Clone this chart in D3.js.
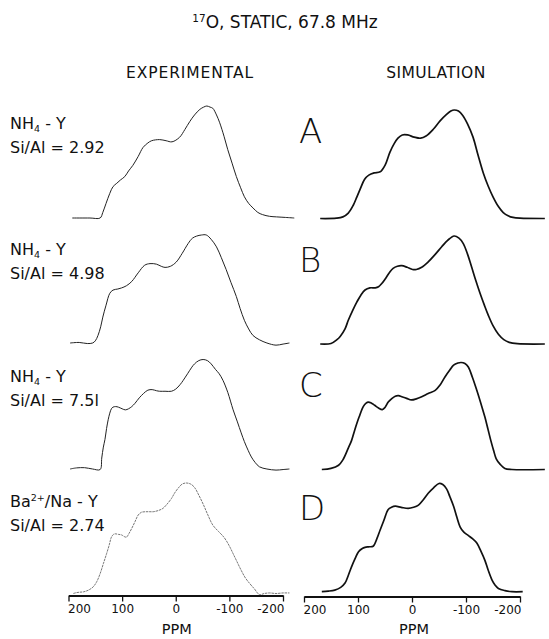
<!DOCTYPE html>
<html>
<head>
<meta charset="utf-8">
<script src="https://cdn.jsdelivr.net/npm/d3@7"></script>
<style>
  html, body { margin: 0; padding: 0; background: #fff; }
  svg { display: block; }
  text { font-family: "DejaVu Sans", "Liberation Sans", sans-serif; fill: #111; }
</style>
</head>
<body>
<svg id="chart" width="549" height="639"></svg>
<script>
// 17O static NMR line shapes: [chemical shift (ppm), relative intensity]
const expA = [[193,0],[160,0],[141,0],[136,0.05],[130,0.13],[123,0.22],[117,0.28],[110,0.31],[103,0.34],[95,0.37],[88,0.42],[80,0.47],[70,0.55],[61,0.63],[52,0.67],[45,0.69],[30,0.70],[18,0.69],[7,0.68],[-7,0.72],[-17,0.79],[-26,0.86],[-35,0.92],[-45,0.97],[-52,0.99],[-58,1.0],[-64,0.99],[-69,0.98],[-76,0.92],[-82,0.85],[-90,0.73],[-97,0.61],[-105,0.49],[-113,0.37],[-121,0.27],[-128,0.19],[-136,0.13],[-144,0.09],[-153,0.05],[-162,0.03],[-175,0.015],[-188,0.01],[-205,0.005],[-221,0]];
const simA = [[170,0],[140,0.003],[128,0.015],[118,0.05],[109,0.12],[102,0.2],[96,0.27],[88,0.36],[80,0.40],[70,0.42],[59,0.43],[50,0.49],[41,0.61],[33,0.69],[26,0.74],[18,0.77],[8,0.77],[-4,0.75],[-16,0.74],[-26,0.76],[-39,0.82],[-52,0.90],[-64,0.96],[-72,0.99],[-78,1.0],[-86,0.99],[-94,0.95],[-103,0.87],[-113,0.75],[-122,0.59],[-132,0.42],[-141,0.30],[-150,0.2],[-160,0.11],[-169,0.055],[-178,0.025],[-187,0.01],[-200,0.003],[-246,0]];
const expB = [[197,0],[180,0.005],[165,-0.005],[155,0],[150,0.02],[145,0.07],[140,0.15],[136,0.24],[130,0.35],[123,0.46],[117,0.49],[108,0.50],[101,0.51],[92,0.53],[82,0.57],[70,0.65],[58,0.72],[48,0.735],[36,0.73],[27,0.71],[20,0.70],[10,0.71],[-1,0.75],[-12,0.83],[-23,0.92],[-31,0.97],[-39,0.99],[-48,1.0],[-57,1.0],[-66,0.96],[-76,0.89],[-85,0.79],[-94,0.68],[-103,0.56],[-113,0.43],[-120,0.32],[-128,0.21],[-136,0.13],[-144,0.07],[-156,0.03],[-170,0.0],[-187,-0.02],[-200,-0.01],[-212,0]];
const simB = [[170,0],[150,0.005],[139,0.04],[133,0.07],[124,0.14],[118,0.22],[110,0.31],[102,0.39],[95,0.45],[87,0.50],[78,0.52],[68,0.52],[62,0.53],[56,0.56],[50,0.60],[42,0.66],[35,0.70],[27,0.72],[19,0.725],[9,0.71],[-1,0.69],[-8,0.69],[-18,0.71],[-30,0.76],[-43,0.83],[-55,0.90],[-66,0.96],[-78,1.0],[-87,0.98],[-95,0.93],[-103,0.83],[-110,0.72],[-118,0.59],[-126,0.47],[-134,0.36],[-141,0.27],[-150,0.17],[-160,0.09],[-170,0.04],[-180,0.015],[-195,0.003],[-246,0]];
const expC = [[197,0],[185,0.01],[170,0.012],[155,0.0],[141,-0.005],[138,0.1],[135,0.2],[132,0.27],[129,0.37],[126,0.45],[123,0.51],[120,0.55],[117,0.565],[112,0.57],[107,0.565],[100,0.55],[94,0.54],[88,0.55],[82,0.57],[76,0.60],[68,0.65],[60,0.69],[52,0.72],[44,0.725],[36,0.715],[30,0.71],[20,0.71],[8,0.71],[0,0.73],[-8,0.77],[-14,0.81],[-22,0.87],[-30,0.93],[-35,0.96],[-43,0.99],[-51,1.0],[-59,0.99],[-66,0.96],[-74,0.91],[-81,0.87],[-88,0.81],[-97,0.70],[-107,0.54],[-115,0.43],[-122,0.33],[-128,0.25],[-135,0.17],[-141,0.11],[-148,0.06],[-156,0.02],[-170,0.0],[-187,-0.01],[-200,-0.005],[-212,0]];
const simC = [[167,0],[150,0.01],[136,0.04],[128,0.09],[118,0.2],[112,0.27],[106,0.37],[98,0.49],[90,0.59],[85,0.62],[81,0.63],[75,0.62],[69,0.60],[62,0.575],[55,0.56],[50,0.58],[44,0.63],[38,0.66],[31,0.685],[25,0.69],[19,0.68],[10,0.665],[1,0.65],[-8,0.66],[-18,0.68],[-30,0.71],[-43,0.74],[-52,0.79],[-61,0.865],[-70,0.93],[-77,0.975],[-85,0.995],[-91,1.0],[-98,0.99],[-104,0.96],[-112,0.86],[-120,0.74],[-128,0.61],[-135,0.49],[-141,0.37],[-146,0.27],[-151,0.18],[-156,0.1],[-163,0.05],[-172,0.01],[-185,0.0],[-246,0]];
const expD = [[191,0],[185,0.008],[179,0.012],[172,0.015],[163,0.03],[154,0.06],[147,0.11],[141,0.18],[135,0.27],[129,0.36],[124,0.44],[120,0.51],[116,0.535],[113,0.54],[107,0.535],[101,0.53],[96,0.515],[92,0.51],[87,0.545],[82,0.59],[76,0.65],[70,0.71],[64,0.735],[56,0.74],[48,0.74],[42,0.74],[33,0.75],[24,0.77],[16,0.81],[8,0.86],[2,0.91],[-4,0.95],[-12,0.99],[-20,1.0],[-28,0.99],[-35,0.96],[-43,0.89],[-51,0.81],[-60,0.71],[-69,0.62],[-80,0.56],[-88,0.52],[-94,0.48],[-101,0.42],[-107,0.36],[-114,0.29],[-122,0.21],[-130,0.14],[-138,0.09],[-147,0.04],[-156,-0.01],[-165,0.0],[-175,0.005],[-187,0.0],[-200,0.005],[-212,0.005]];
const simD = [[167,0],[155,0.005],[143,0.015],[132,0.04],[124,0.08],[118,0.15],[112,0.23],[105,0.31],[99,0.37],[92,0.40],[87,0.41],[80,0.415],[72,0.42],[65,0.49],[59,0.57],[52,0.66],[44,0.76],[38,0.78],[31,0.79],[20,0.78],[7,0.77],[-3,0.78],[-12,0.80],[-21,0.85],[-30,0.91],[-40,0.96],[-50,1.0],[-57,0.99],[-64,0.95],[-70,0.88],[-77,0.79],[-83,0.69],[-89,0.60],[-96,0.55],[-104,0.52],[-112,0.49],[-120,0.45],[-128,0.37],[-135,0.29],[-141,0.20],[-148,0.11],[-154,0.06],[-160,0.03],[-172,0.01],[-185,0],[-205,0]];

const panelLetters = ["A", "B", "C", "D"];
const sampleNames = ["NH4-Y", "NH4-Y", "NH4-Y", "Ba2+/Na-Y"];
const siAlRatios = ["2.92", "4.98", "7.5l", "2.74"];
const ppmTicks = [200, 100, 0, -100, -200];

const experimental = [expA, expB, expC, expD];
const simulated = [simA, simB, simC, simD];

const svg = d3.select("#chart");

// frame of each column: horizontal ppm scale, plus baseline / peak rows
const leftX = d3.scaleLinear().domain([200, -200]).range([68.5, 283]);
const rightX = d3.scaleLinear().domain([200, -200]).range([304, 520]);
const leftRows = [[218, 106], [343, 235], [469, 359.5], [593.5, 483]];
const rightRows = [[218.5, 110], [344, 236], [469.5, 362.5], [591.7, 483.5]];

function drawSpectrum(data, xs, row, style) {
  const y = d3.scaleLinear().domain([0, 1]).range(row);
  const line = d3.line()
    .x(d => xs(d[0]))
    .y(d => y(d[1]))
    .curve(d3.curveCatmullRom.alpha(0.5));
  svg.append("path")
    .datum(data)
    .attr("d", line)
    .attr("fill", "none")
    .attr("stroke", style.color)
    .attr("stroke-width", style.width)
    .attr("stroke-dasharray", style.dash || null)
    .attr("stroke-linejoin", "round");
}

experimental.forEach((d, i) => drawSpectrum(d, leftX, leftRows[i],
  i === 3 ? { color: "#666", width: 0.9, dash: "2.5,0.8" } : { color: "#222", width: 1.0 }));
simulated.forEach((d, i) => drawSpectrum(d, rightX, rightRows[i], { color: "#111", width: 1.7 }));

// ppm axes under both columns
function drawAxis(xs, yPos) {
  const g = svg.append("g")
    .attr("transform", `translate(0,${yPos})`)
    .call(d3.axisBottom(xs).tickValues(ppmTicks).tickSize(6).tickSizeOuter(0).tickPadding(3)
      .tickFormat(d => String(d)));
  g.select(".domain").attr("stroke", "#111").attr("stroke-width", 1.8);
  g.selectAll(".tick line").attr("stroke", "#111").attr("stroke-width", 1.3);
  g.selectAll(".tick text")
    .attr("font-family", "DejaVu Sans, sans-serif")
    .attr("font-size", 12)
    .attr("fill", "#111")
    .attr("text-anchor", (d, i) => i === 0 ? "start" : i === ppmTicks.length - 1 ? "end" : "middle")
    .attr("dx", (d, i) => i === 0 ? -1 : i === ppmTicks.length - 1 ? 1 : 0);
  return g;
}
drawAxis(leftX, 595.5);
drawAxis(rightX, 596.5);

svg.append("text").attr("x", leftX(0) + 1).attr("y", 634).attr("text-anchor", "middle")
  .attr("font-size", 14.5).text("PPM");
svg.append("text").attr("x", rightX(0) + 2).attr("y", 634).attr("text-anchor", "middle")
  .attr("font-size", 14.5).text("PPM");

// title
const title = svg.append("text").attr("x", 285).attr("y", 27.5).attr("text-anchor", "middle")
  .attr("font-size", 17);
title.append("tspan").attr("font-size", 10.5).attr("dy", -6).text("17");
title.append("tspan").attr("dy", 6).text("O, STATIC, 67.8 MHz");

// column headings
svg.append("text").attr("x", 190).attr("y", 78).attr("text-anchor", "middle")
  .attr("font-size", 15.5).attr("letter-spacing", 0.9).text("EXPERIMENTAL");
svg.append("text").attr("x", 436).attr("y", 78).attr("text-anchor", "middle")
  .attr("font-size", 15.5).attr("letter-spacing", 0.4).text("SIMULATION");

// sample labels on the left
const labelBase = [129, 255, 382, 507];
sampleNames.forEach((name, i) => {
  const t = svg.append("text").attr("x", 10).attr("y", labelBase[i]).attr("font-size", 16);
  if (name.startsWith("NH4")) {
    t.append("tspan").text("NH");
    t.append("tspan").attr("font-size", 9.5).attr("dy", 3).text("4");
    t.append("tspan").attr("dy", -3).text(" - Y");
  } else {
    t.append("tspan").text("Ba");
    t.append("tspan").attr("font-size", 9.5).attr("dy", -6).text("2+");
    t.append("tspan").attr("dy", 6).text("/Na - Y");
  }
  svg.append("text").attr("x", 10).attr("y", labelBase[i] + 23.5).attr("font-size", 16)
    .text("Si/Al = " + siAlRatios[i]);
});

// panel letters between the columns
const letterBase = [143, 272, 397, 520];
panelLetters.forEach((L, i) => {
  svg.append("text").attr("x", 299).attr("y", letterBase[i])
    .attr("font-size", 34).attr("font-weight", 200)
    .text(L);
});
</script>
</body>
</html>
